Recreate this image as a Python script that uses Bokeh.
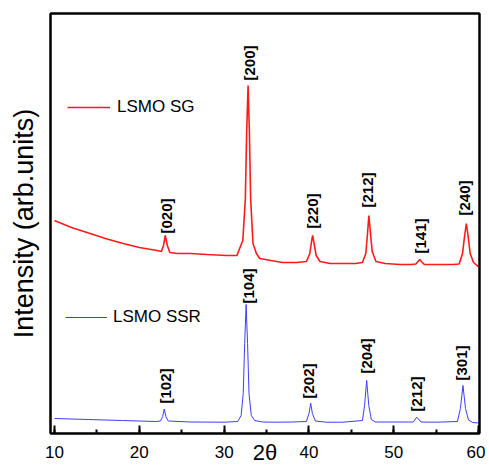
import math
from bokeh.plotting import figure
from bokeh.models import (Range1d, SingleIntervalTicker, FixedTicker, Legend, LegendItem,
                          ColumnDataSource, LinearAxis)
from bokeh.core.properties import value
from bokeh.embed import file_html
from bokeh.resources import INLINE

FONT = "Liberation Sans"

# ---- LSMO SG (red, offset upward) ----
sg_2theta = [10.0, 12.0, 14.2, 16.0, 18.1, 20.0, 22.1, 22.6, 22.85, 23.06, 23.3, 23.6,
             24.5, 26.0, 28.0, 30.3, 31.5, 32.2, 32.5, 32.65, 32.82, 32.98, 33.12, 33.4,
             33.8, 34.2, 35.5, 36.9, 38.5, 39.7, 40.1, 40.3, 40.43, 40.6, 40.85, 41.3,
             42.5, 44.0, 45.5, 46.3, 46.7, 46.9, 47.06, 47.25, 47.45, 47.9, 49.0, 50.7,
             52.0, 52.6, 52.9, 53.06, 53.25, 53.6, 55.0, 57.0, 57.7, 58.1, 58.35, 58.55,
             58.75, 59.0, 59.4, 59.8, 60.0]
sg_intensity = [213, 206, 200, 195, 190, 186, 183, 182, 188, 198, 188, 181,
                180, 180, 179, 178, 178, 193, 235, 300, 348, 300, 235, 190,
                180, 175, 173, 171, 171, 172, 180, 192, 198, 190, 178, 172,
                170, 170, 170, 171, 180, 200, 218, 200, 182, 172, 170, 169,
                169, 169.5, 172.5, 174, 172, 169, 169, 169, 169.5, 180, 198, 210,
                198, 180, 171, 168, 167]

# ---- LSMO SSR (blue) ----
ssr_2theta = [10.0, 14.0, 18.0, 22.0, 22.5, 22.75, 22.94, 23.13, 23.4, 26.0, 30.0,
              31.6, 32.0, 32.25, 32.42, 32.59, 32.76, 32.93, 33.2, 33.6, 34.5, 36.0,
              38.0, 39.7, 40.0, 40.2, 40.4, 40.75, 42.0, 44.0, 46.3, 46.55, 46.8, 47.05,
              47.35, 47.8, 50.0, 52.3, 52.55, 52.7, 52.9, 53.2, 55.0, 57.5, 57.85, 58.15,
              58.45, 58.8, 59.3, 60.1]
ssr_intensity = [15, 14, 13, 12, 12.5, 17, 24.5, 17, 12.5, 11.5, 11.3,
                 12, 18, 40, 90, 129, 90, 40, 18, 13, 11.5, 11.3,
                 11.5, 12, 20, 30.3, 20, 12.5, 11.3, 11.3, 13, 28, 53, 28,
                 14, 11.5, 11.5, 11.5, 14.5, 16.3, 14.5, 11.5, 11.3, 12, 25, 48,
                 25, 13.5, 11, 10.5]

# ---- peak index labels ----
sg_hkl = ["[020]", "[200]", "[220]", "[212]", "[141]", "[240]"]
sg_hkl_2theta = [23.18, 32.95, 40.47, 46.94, 53.18, 58.35]
sg_hkl_y = [200, 353, 205, 226, 180, 218]

ssr_hkl = ["[102]", "[104]", "[202]", "[204]", "[212]", "[301]"]
ssr_hkl_2theta = [23.06, 32.82, 40.0, 46.82, 52.7, 58.0]
ssr_hkl_y = [30, 130, 35, 60, 22, 53]

x_ticks_interval = 10

p = figure(width=485, height=470,
           x_range=Range1d(9.53, 60.1), y_range=Range1d(0, 420),
           output_backend="svg", toolbar_location=None,
           min_border_left=50, min_border_right=6, min_border_top=13, min_border_bottom=37,
           x_axis_label="2θ", y_axis_label="Intensity (arb.units)")

p.background_fill_color = "white"
p.border_fill_color = "white"
p.outline_line_color = "black"
p.outline_line_width = 2
p.outline_line_alpha = 1.0
p.xgrid.visible = False
p.ygrid.visible = False

p.xaxis.ticker = SingleIntervalTicker(interval=x_ticks_interval, num_minor_ticks=2)
p.xaxis.axis_line_width = 2
p.xaxis.axis_line_color = "black"
p.xaxis.major_tick_in = 8
p.xaxis.major_tick_out = 0
p.xaxis.minor_tick_in = 4
p.xaxis.minor_tick_out = 0
p.xaxis.major_tick_line_width = 2
p.xaxis.minor_tick_line_width = 2
p.xaxis.major_tick_line_color = "black"
p.xaxis.minor_tick_line_color = "black"
p.xaxis.major_label_text_font = FONT
p.xaxis.major_label_text_font_size = "17px"
p.xaxis.major_label_text_color = "black"
p.xaxis.major_label_standoff = 12
p.xaxis.axis_label_text_font = FONT
p.xaxis.axis_label_text_font_size = "22px"
p.xaxis.axis_label_text_font_style = "normal"
p.xaxis.axis_label_text_color = "black"
p.xaxis.axis_label_standoff = -21

p.yaxis.ticker = FixedTicker(ticks=[])
p.yaxis.axis_line_width = 2
p.yaxis.axis_line_color = "black"
p.yaxis.major_tick_in = 0
p.yaxis.major_tick_out = 0
p.yaxis.minor_tick_in = 0
p.yaxis.minor_tick_out = 0
p.yaxis.major_label_standoff = 0
p.yaxis.axis_label_text_font = FONT
p.yaxis.axis_label_text_font_size = "27px"
p.yaxis.axis_label_text_font_style = "normal"
p.yaxis.axis_label_text_color = "black"
p.yaxis.axis_label_standoff = 12

# plain frame lines on top and right
for side in ("above", "right"):
    ax = LinearAxis(ticker=FixedTicker(ticks=[]), axis_line_width=2, axis_line_color="black",
                    major_tick_in=0, major_tick_out=0, minor_tick_in=0, minor_tick_out=0,
                    major_label_standoff=0, major_label_text_font_size="0px")
    p.add_layout(ax, side)

r_sg = p.line(sg_2theta, sg_intensity, line_color="#ff1a1a", line_width=1.6)
r_ssr = p.line(ssr_2theta, ssr_intensity, line_color="#3d3dff", line_width=1.0)

src_sg = ColumnDataSource(dict(x=sg_hkl_2theta, y=sg_hkl_y, t=sg_hkl))
src_ssr = ColumnDataSource(dict(x=ssr_hkl_2theta, y=ssr_hkl_y, t=ssr_hkl))
for src in (src_sg, src_ssr):
    p.text(x="x", y="y", text="t", source=src, angle=math.pi / 2,
           text_align="left", text_baseline="middle",
           text_font=value(FONT), text_font_style="bold",
           text_font_size="15px", text_color="black")

for name, rend, loc, gw, so in (("LSMO SG", r_sg, (17, 316), 43, 7),
                                 ("LSMO SSR", r_ssr, (15, 106), 42, 6)):
    leg = Legend(items=[LegendItem(label=name, renderers=[rend])],
                 location=loc, glyph_width=gw, glyph_height=20, label_height=20,
                 label_standoff=so, padding=0, margin=0, spacing=0,
                 border_line_color=None, background_fill_alpha=0,
                 label_text_font=FONT, label_text_font_size="17px",
                 label_text_color="black")
    p.add_layout(leg)

open("out.html", "w").write(file_html(p, INLINE))
